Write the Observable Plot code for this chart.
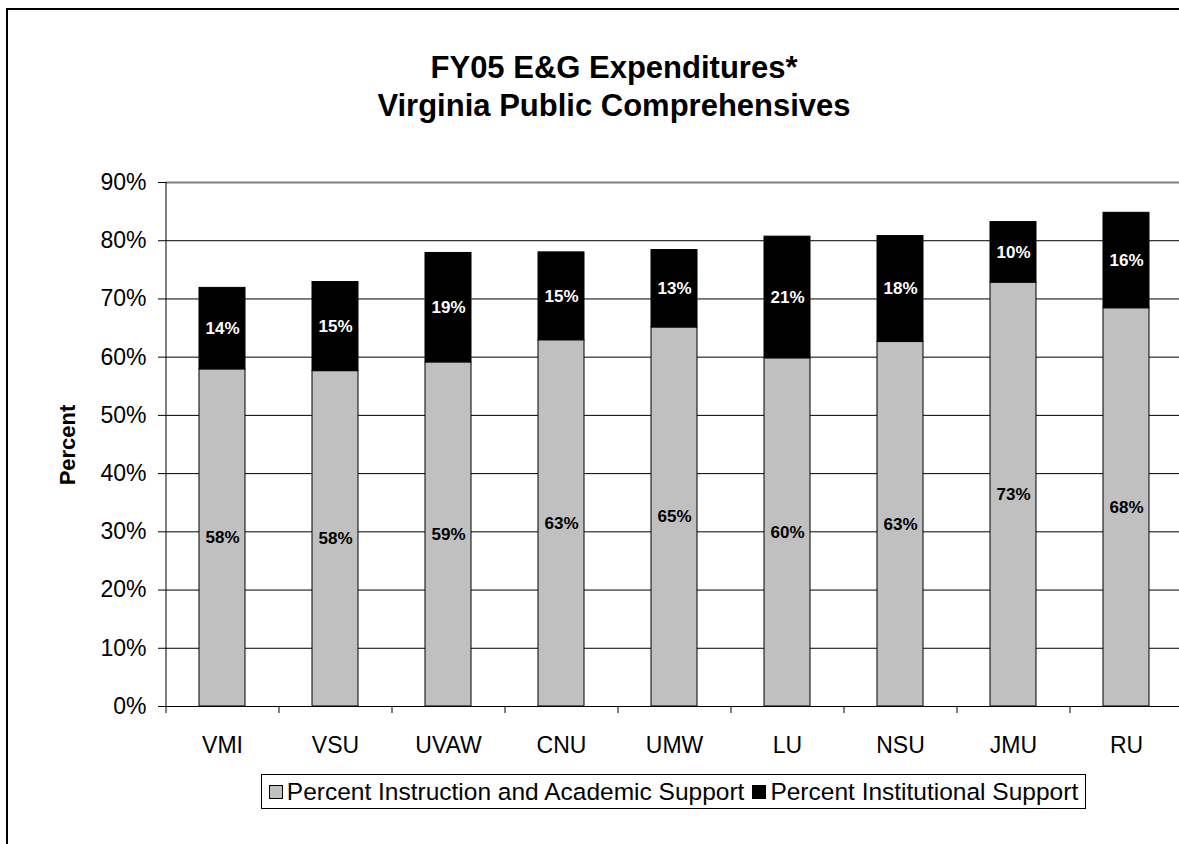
<!DOCTYPE html>
<html>
<head>
<meta charset="utf-8">
<script src="https://cdn.jsdelivr.net/npm/d3@7"></script>
<script src="https://cdn.jsdelivr.net/npm/@observablehq/plot@0.6"></script>
<style>
  html, body { margin: 0; padding: 0; background: #fff; overflow: hidden; width: 1179px; height: 844px; }
  #chart { position: relative; width: 1179px; height: 844px; overflow: hidden; font-family: "Liberation Sans", Arial, sans-serif; color: #000; }
  #bTop { position: absolute; left: 6px; top: 8px; width: 1173px; height: 2px; background: #000; }
  #bLeft { position: absolute; left: 6px; top: 8px; width: 2px; height: 836px; background: #000; }
  #title { position: absolute; left: 0; width: 1228px; top: 49px; text-align: center; font-weight: bold; font-size: 31px; line-height: 38px; }
  #plot { position: absolute; left: 0; top: 0; width: 1179px; height: 760px; overflow: hidden; }
  #ylabel { position: absolute; left: 68px; top: 445px; transform: translate(-50%, -50%) rotate(-90deg); font-weight: bold; font-size: 22px; line-height: 1; white-space: nowrap; }
  #legend { position: absolute; left: 261px; top: 774px; width: 823px; height: 33px; border: 1px solid #000; display: flex; align-items: center; justify-content: center; font-size: 24.5px; white-space: nowrap; background: #fff; }
  .item { display: flex; align-items: center; }
  .sw { width: 12px; height: 12px; border: 1px solid #000; margin-right: 4px; }
  .item + .item { margin-left: 8px; }
</style>
</head>
<body>
<div id="chart">
  <div id="bTop"></div>
  <div id="bLeft"></div>
  <div id="plot"></div>
  <div id="title">FY05 E&amp;G Expenditures*<br>Virginia Public Comprehensives</div>
  <div id="ylabel">Percent</div>
  <div id="legend"></div>
</div>
<script>
const categories = ["VMI", "VSU", "UVAW", "CNU", "UMW", "LU", "NSU", "JMU", "RU"];
const instruction = [57.9, 57.6, 59.1, 62.9, 65.1, 59.8, 62.6, 72.8, 68.4];
const institutional = [14.0, 15.3, 18.8, 15.1, 13.3, 20.9, 18.2, 10.4, 16.4];
const seriesNames = ["Percent Instruction and Academic Support", "Percent Institutional Support"];
const seriesColors = ["#c0c0c0", "#000000"];
const labelColors = ["#000000", "#ffffff"];
const yTicks = [0, 10, 20, 30, 40, 50, 60, 70, 80, 90];

const rows = categories.flatMap((c, i) => [
  {cat: c, series: seriesNames[0], value: instruction[i]},
  {cat: c, series: seriesNames[1], value: institutional[i]}
]);

const W = 1200, H = 760, mL = 166, mR = 17, mT = 182, mB = 54;
const step = (W - mL - mR) / categories.length;

const plot = Plot.plot({
  width: W,
  height: H,
  marginLeft: mL,
  marginRight: mR,
  marginTop: mT,
  marginBottom: mB,
  style: {fontSize: "23px", fontFamily: "'Liberation Sans', Arial, sans-serif", maxWidth: "none", background: "transparent", overflow: "visible", color: "#000"},
  x: {domain: categories, paddingInner: 0.59, paddingOuter: 0.295, tickSize: 0, tickPadding: 30, label: null},
  y: {domain: [0, 90], ticks: yTicks, tickFormat: d => d + "%", tickSize: 8, tickPadding: 12, label: null},
  color: {domain: seriesNames, range: seriesColors},
  marks: [
    Plot.ruleY(yTicks.filter(t => t > 0 && t < 90), {stroke: "#000", strokeWidth: 1}),
    Plot.ruleY([90], {stroke: "#808080", strokeWidth: 2}),
    Plot.barY(rows, {x: "cat", y: "value", fill: "series", stroke: "#000", strokeWidth: 1}),
    Plot.ruleY([0], {stroke: "#000", strokeWidth: 1}),
    Plot.ruleX([categories[0]], {x: d => d, dx: -step / 2, y1: 0, y2: 90, stroke: "#000", strokeWidth: 1}),
    Plot.ruleX(categories, {x: d => d, dx: -step / 2, y1: 0, y2: 0, insetBottom: -7, stroke: "#000", strokeWidth: 1}),
    Plot.text(rows, Plot.stackY({
      x: "cat", y: "value",
      text: d => Math.round(d.value) + "%",
      fill: d => labelColors[seriesNames.indexOf(d.series)],
      fontSize: 17, fontWeight: "bold"
    }))
  ]
});
document.getElementById("plot").appendChild(plot);

const legend = document.getElementById("legend");
seriesNames.forEach((name, i) => {
  const item = document.createElement("div");
  item.className = "item";
  const sw = document.createElement("div");
  sw.className = "sw";
  sw.style.background = seriesColors[i];
  const label = document.createElement("span");
  label.textContent = name;
  item.appendChild(sw);
  item.appendChild(label);
  legend.appendChild(item);
});
</script>
</body>
</html>
